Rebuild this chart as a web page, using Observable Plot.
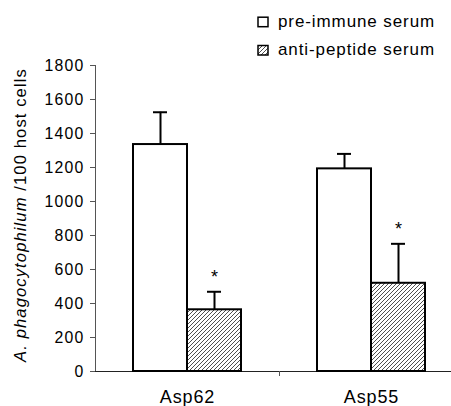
<!DOCTYPE html>
<html><head><meta charset="utf-8">
<script src="https://cdn.jsdelivr.net/npm/d3@7"></script>
<script src="https://cdn.jsdelivr.net/npm/@observablehq/plot@0.6"></script>
<style>
html,body{margin:0;padding:0;background:#fff;}
#wrap{position:relative;width:451px;height:406px;overflow:hidden;}
svg [aria-label="y-axis tick label"] text{letter-spacing:1.2px;}
svg [aria-label="fx-axis tick label"] text{letter-spacing:0.9px;}
</style></head><body>
<div id="wrap"></div>
<script>
const categories = ["Asp62", "Asp55"];
const seriesNames = ["pre-immune serum", "anti-peptide serum"];
const preImmune = [1335, 1192];
const preImmuneErr = [190, 88];
const antiPeptide = [363, 519];
const antiPeptideErr = [106, 232];
const antiSignificant = [true, true];
const yTicks = [0, 200, 400, 600, 800, 1000, 1200, 1400, 1600, 1800];
const yLabelItalic = "A. phagocytophilum";
const yLabelRest = " /100 host cells";

const rows = [];
categories.forEach((c, i) => {
  rows.push({category: c, series: seriesNames[0], value: preImmune[i], err: preImmuneErr[i], sig: false});
  rows.push({category: c, series: seriesNames[1], value: antiPeptide[i], err: antiPeptideErr[i], sig: antiSignificant[i]});
});
const errTop = d => d.value + d.err;
const FONT = "'Liberation Sans', Arial, Helvetica, sans-serif";

const plot = Plot.plot({
  width: 451, height: 406,
  marginLeft: 95, marginRight: -12, marginTop: 65, marginBottom: 35,
  style: {fontFamily: FONT, color: "black", background: "white", overflow: "hidden"},
  fx: {domain: categories, padding: 0, label: null},
  x: {domain: seriesNames, paddingInner: 0, paddingOuter: 0.69, axis: null},
  y: {domain: [0, 1800], label: null},
  marks: [
    Plot.axisY({ticks: yTicks, tickSize: 5, tickPadding: 6, fontSize: 15.8, label: null, tickFormat: d => String(d), stroke: "#555"}),
    Plot.axisFx({anchor: "bottom", tickSize: 0, tickPadding: 19, fontSize: 18, label: null}),
    Plot.ruleY([0], {stroke: "#222", strokeWidth: 1}),
    Plot.ruleX(rows, {fx: "category", x: "series", y1: "value", y2: errTop, stroke: "black", strokeWidth: 2}),
    Plot.tickY(rows, {fx: "category", x: "series", y: errTop, stroke: "black", strokeWidth: 2, insetLeft: 20, insetRight: 20}),
    Plot.barY(rows.filter(d => d.series === seriesNames[0]), {fx: "category", x: "series", y: "value", fill: "white", stroke: "black", strokeWidth: 2}),
    Plot.barY(rows.filter(d => d.series === seriesNames[1]), {fx: "category", x: "series", y: "value", fill: "url(#hatch)", stroke: "black", strokeWidth: 2}),
    Plot.text(rows.filter(d => d.sig), {fx: "category", x: "series", y: errTop, text: () => "*", dy: -15, fontSize: 18, fill: "black"})
  ]
});

const svg = d3.select(plot);
const defs = svg.insert("defs", ":first-child");
const pat = defs.append("pattern").attr("id", "hatch").attr("patternUnits", "userSpaceOnUse")
  .attr("width", 4).attr("height", 4);
pat.append("rect").attr("width", 4).attr("height", 4).attr("fill", "white");
pat.append("path").attr("d", "M-1,1 l2,-2 M0,4 l4,-4 M3,5 l2,-2").attr("stroke", "#222").attr("stroke-width", 0.8);

const yS = plot.scale("y");
const fxS = plot.scale("fx");
const x0 = fxS.range[0];
// y axis line
svg.append("line").attr("x1", x0 + 0.5).attr("x2", x0 + 0.5)
  .attr("y1", yS.apply(yTicks[yTicks.length - 1])).attr("y2", yS.apply(0))
  .attr("stroke", "#555");
// boundary tick between categories
const xb = fxS.apply(categories[0]) + fxS.bandwidth;
svg.append("line").attr("x1", xb + 0.5).attr("x2", xb + 0.5)
  .attr("y1", yS.apply(0)).attr("y2", yS.apply(0) + 5).attr("stroke", "#555");

// y label
const yl = svg.append("text").attr("transform", `translate(26,215) rotate(-90)`)
  .attr("text-anchor", "middle").attr("font-family", FONT).attr("font-size", 16.6).attr("fill", "black")
  .style("letter-spacing", "1.1px");
yl.append("tspan").attr("font-style", "italic").text(yLabelItalic);
yl.append("tspan").text(yLabelRest);

// legend
const legendFills = ["white", "url(#hatch)"];
const lg = svg.append("g").attr("font-family", FONT).attr("font-size", 17).attr("text-anchor", "start");
seriesNames.forEach((s, i) => {
  const base = 26.7 + i * 28.3;
  lg.append("rect").attr("x", 258).attr("y", base - 9.5).attr("width", 10).attr("height", 9.5)
    .attr("fill", legendFills[i]).attr("stroke", "black").attr("stroke-width", 1.5);
  lg.append("text").attr("x", 278).attr("y", base).attr("fill", "black").attr("text-anchor", "start")
    .style("letter-spacing", "0.9px").text(s);
});

document.getElementById("wrap").appendChild(plot);
</script>
</body></html>
